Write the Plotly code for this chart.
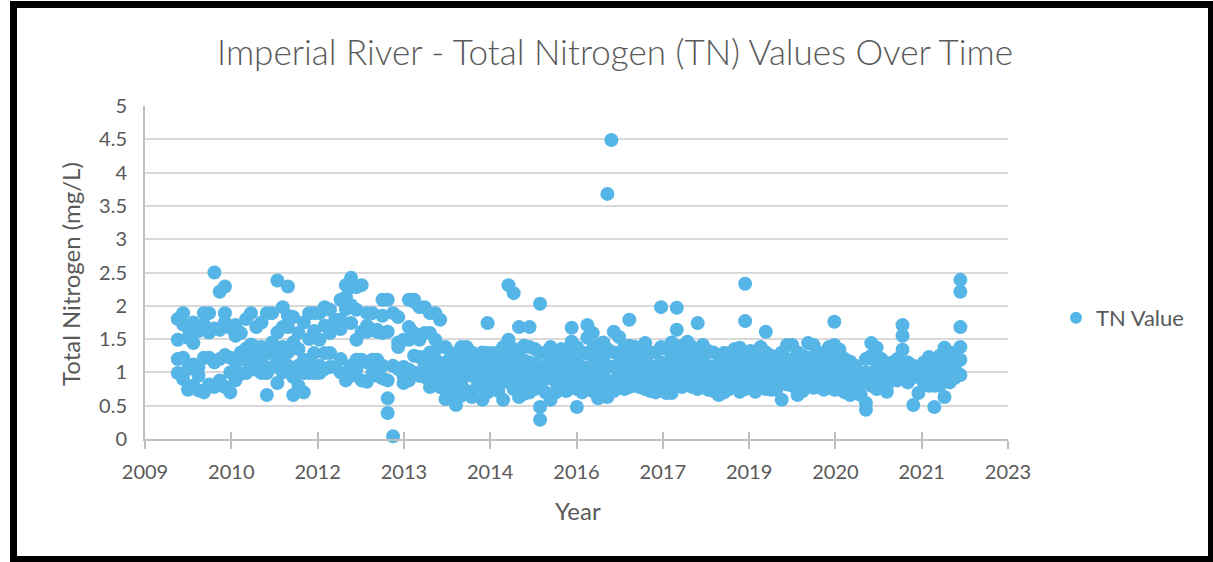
import plotly.graph_objects as go

# ---------------- data ----------------
sample_dates = [
    "2010-01-12", "2010-02-12", "2010-03-12", "2010-04-12", "2010-05-12", "2010-06-12",
    "2010-07-12", "2010-08-12", "2010-09-12", "2010-10-12", "2010-11-12", "2010-12-12",
    "2011-01-12", "2011-02-12", "2011-03-12", "2011-04-12", "2011-05-12", "2011-06-12",
    "2011-07-12", "2011-08-12", "2011-09-12", "2011-10-12", "2011-11-12", "2011-12-12",
    "2012-01-12", "2012-02-12", "2012-03-12", "2012-04-12", "2012-05-12", "2012-06-12",
    "2012-07-12", "2012-08-12", "2012-09-12", "2012-10-12", "2012-11-12", "2012-12-12",
    "2013-01-12", "2013-02-12", "2013-03-12", "2013-04-12", "2013-05-12", "2013-06-12",
    "2013-07-12", "2013-08-12", "2013-09-12", "2013-10-12", "2013-11-12", "2013-12-12",
    "2014-01-12", "2014-02-12", "2014-03-12", "2014-04-12", "2014-05-12", "2014-06-12",
    "2014-07-12", "2014-08-12", "2014-09-12", "2014-10-12", "2014-11-12", "2014-12-12",
    "2015-01-12", "2015-02-12", "2015-03-12", "2015-04-12", "2015-05-12", "2015-06-12",
    "2015-07-12", "2015-08-12", "2015-09-12", "2015-10-12", "2015-11-12", "2015-12-12",
    "2016-01-12", "2016-02-12", "2016-03-12", "2016-04-12", "2016-05-12", "2016-06-12",
    "2016-07-12", "2016-08-12", "2016-09-12", "2016-10-12", "2016-11-05", "2016-11-28",
    "2016-12-12",
    "2017-01-12", "2017-02-12", "2017-03-12", "2017-04-12", "2017-05-12", "2017-06-12",
    "2017-07-12", "2017-08-12", "2017-09-12", "2017-10-12", "2017-11-12", "2017-12-12",
    "2018-01-12", "2018-02-12", "2018-03-12", "2018-04-12", "2018-05-12", "2018-06-12",
    "2018-07-12", "2018-08-12", "2018-09-12", "2018-10-12", "2018-11-12", "2018-12-12",
    "2019-01-12", "2019-02-12", "2019-03-12", "2019-04-12", "2019-05-12", "2019-06-12",
    "2019-07-12", "2019-08-12", "2019-09-12", "2019-10-12", "2019-11-12", "2019-12-12",
    "2020-01-12", "2020-02-12", "2020-03-12", "2020-04-12", "2020-05-12", "2020-06-12",
    "2020-07-12", "2020-08-12", "2020-09-12", "2020-10-12", "2020-11-12", "2020-12-12",
    "2021-01-12", "2021-02-12", "2021-03-12", "2021-04-12", "2021-05-12", "2021-06-12",
    "2021-07-12", "2021-08-12", "2021-09-12", "2021-10-12", "2021-11-12", "2021-12-12",
    "2022-01-12", "2022-02-12", "2022-03-12", "2022-04-12", "2022-05-12", "2022-06-12",
]

tn_by_date = [
    # 2010
    [1.80, 1.49, 1.20, 0.99], [1.89, 1.72, 1.22, 0.90], [1.67, 1.52, 1.05, 0.74],
    [1.75, 1.44, 1.12, 0.80], [1.62, 1.08, 0.95, 0.73], [1.89, 1.72, 1.22, 0.70],
    [1.89, 1.60, 1.22, 0.82], [2.50, 1.66, 1.15, 0.78], [2.21, 1.64, 1.20, 0.88],
    [2.29, 1.89, 1.75, 1.26, 0.78], [1.67, 1.22, 1.00, 0.70], [1.71, 1.55, 1.16, 0.88],
    # 2011
    [1.59, 1.30, 1.19, 0.98], [1.80, 1.36, 1.19, 0.99], [1.89, 1.42, 1.25, 1.10],
    [1.68, 1.38, 1.26, 1.04], [1.75, 1.38, 1.15, 0.99], [1.89, 1.29, 0.99, 0.66],
    [1.89, 1.45, 1.29, 1.08], [2.38, 1.60, 1.20, 1.08, 0.84], [1.98, 1.68, 1.38, 1.23, 1.00],
    [2.29, 1.85, 1.68, 1.30, 1.10], [1.83, 1.45, 0.93, 0.66], [1.59, 1.35, 1.10, 0.80],
    # 2012
    [1.75, 1.19, 0.99, 0.70], [1.89, 1.50, 1.15, 0.99], [1.89, 1.62, 1.29, 0.99],
    [1.89, 1.49, 1.10, 0.99], [1.98, 1.70, 1.29, 1.05], [1.94, 1.59, 1.29, 1.08],
    [1.79, 1.74, 1.08], [2.09, 1.79, 1.65, 1.20, 1.00], [2.31, 2.13, 1.95, 0.99, 0.88],
    [2.42, 2.28, 2.01, 1.74, 1.10, 0.95], [2.28, 1.94, 1.49, 1.19, 1.05], [2.31, 1.61, 1.19, 0.88],
    # 2013
    [1.89, 1.70, 1.61, 1.15, 0.86], [1.89, 1.64, 1.19, 0.99], [1.64, 1.61, 1.19, 1.10, 0.95],
    [2.09, 1.85, 1.59, 1.10, 0.91], [2.09, 1.61, 0.88, 0.61, 0.39], [1.89, 1.10, 0.04],
    [1.83, 1.45, 1.38, 1.05], [1.49, 1.08, 0.95, 0.84], [2.09, 1.68, 1.49, 1.04, 0.88],
    [2.09, 2.06, 1.59, 1.25, 1.00], [1.98, 1.49, 1.23, 0.95], [1.98, 1.59, 1.23, 1.10, 0.93],
    # 2014
    [1.89, 1.59, 1.30, 0.99, 0.78], [1.89, 1.49, 1.20, 1.04, 0.90], [1.79, 1.38, 1.04, 0.78],
    [1.38, 1.15, 0.90, 0.74, 0.60], [1.29, 1.08, 0.88, 0.70], [1.20, 0.99, 0.80, 0.51],
    [1.38, 1.10, 0.84, 0.65], [1.38, 1.20, 0.99, 0.72], [1.30, 1.12, 0.95, 0.63],
    [1.22, 1.05, 0.93, 0.78], [1.30, 1.10, 0.90, 0.59], [1.74, 1.29, 1.08, 0.85, 0.70],
    # 2015
    [1.29, 1.20, 1.00, 0.80], [1.30, 1.10, 0.88, 0.72], [1.38, 1.15, 0.95, 0.59],
    [2.31, 1.49, 1.25, 1.05, 0.85], [2.19, 1.35, 1.12, 0.92, 0.75], [1.68, 1.30, 1.05, 0.85, 0.63],
    [1.40, 1.18, 0.99, 0.80, 0.68], [1.68, 1.38, 1.15, 0.95, 0.70], [1.35, 1.12, 0.92, 0.75],
    [2.03, 1.29, 1.05, 0.88, 0.48, 0.29], [1.30, 1.10, 0.90, 0.70], [1.38, 1.20, 1.00, 0.59],
    # 2016
    [1.25, 1.05, 0.85, 0.70], [1.35, 1.15, 0.95, 0.75], [1.30, 1.10, 0.90, 0.72],
    [1.67, 1.46, 1.25, 1.00, 0.80], [1.38, 1.15, 0.95, 0.75, 0.48], [1.30, 1.08, 0.88, 0.70],
    [1.71, 1.52, 1.28, 1.05, 0.85], [1.59, 1.35, 1.12, 0.90, 0.72], [1.40, 1.18, 0.98, 0.78, 0.61],
    [1.45, 1.22, 1.00, 0.80], [3.68, 1.35, 1.10, 0.88, 0.63], [4.49],
    [1.61, 1.30, 1.08, 0.88, 0.72],
    # 2017
    [1.53, 1.25, 1.02, 0.82], [1.38, 1.15, 0.95, 0.75], [1.79, 1.40, 1.20, 0.98, 0.78],
    [1.38, 1.15, 0.95, 0.80], [1.35, 1.25, 1.05, 0.85, 0.78], [1.44, 1.12, 0.92, 0.75],
    [1.30, 1.10, 0.90, 0.72], [1.30, 1.08, 0.88, 0.70], [1.98, 1.38, 1.15, 0.95, 0.80],
    [1.35, 1.12, 0.92, 0.69], [1.45, 1.22, 1.00, 0.80, 0.69], [1.97, 1.64, 1.30, 1.08, 0.88],
    # 2018
    [1.40, 1.18, 0.95, 0.78], [1.46, 1.25, 1.05, 0.85], [1.38, 1.15, 0.95, 0.78],
    [1.74, 1.30, 1.10, 0.90, 0.75], [1.41, 1.20, 1.00, 0.80], [1.32, 1.10, 0.92, 0.74],
    [1.30, 1.08, 0.88, 0.72], [1.25, 1.05, 0.85, 0.66], [1.29, 1.08, 0.90, 0.70],
    [1.29, 1.10, 0.92, 0.75], [1.35, 1.15, 0.95, 0.78], [1.37, 1.18, 0.98, 0.71],
    # 2019
    [2.33, 1.77, 1.30, 1.10, 0.90, 0.75], [1.32, 1.12, 0.92, 0.78], [1.28, 1.08, 0.90, 0.71],
    [1.38, 1.18, 0.98, 0.80], [1.61, 1.30, 1.10, 0.90, 0.75], [1.25, 1.05, 0.88, 0.74],
    [1.20, 1.02, 0.85, 0.74], [1.30, 1.10, 0.90, 0.59], [1.41, 1.20, 1.00, 0.82],
    [1.41, 1.18, 0.98, 0.80], [1.30, 1.10, 0.92, 0.66], [1.25, 1.05, 0.88, 0.72],
    # 2020
    [1.44, 1.22, 1.02, 0.85], [1.41, 1.20, 1.00, 0.77], [1.30, 1.10, 0.92, 0.78],
    [1.25, 1.05, 0.88, 0.74], [1.38, 1.19, 0.99, 0.80], [1.76, 1.41, 1.19, 0.99, 0.74],
    [1.34, 1.12, 0.92, 0.74], [1.20, 1.00, 0.85, 0.70], [1.16, 0.95, 0.80, 0.66],
    [1.10, 0.91, 0.75], [0.99, 0.85, 0.66], [1.20, 1.00, 0.85, 0.54, 0.44],
    # 2021
    [1.44, 1.25, 0.99, 0.80], [1.37, 1.15, 0.92, 0.75], [1.20, 1.00, 0.85, 0.78],
    [1.10, 0.95, 0.80, 0.71], [1.15, 0.99, 0.88], [1.20, 1.00, 0.88],
    [1.71, 1.55, 1.34, 1.04, 0.90], [1.15, 0.99, 0.85], [1.10, 0.93, 0.51],
    [1.05, 0.93, 0.69], [1.15, 0.99, 0.85], [1.23, 1.05, 0.93, 0.80],
    # 2022
    [1.12, 0.95, 0.80, 0.48], [1.25, 1.08, 0.93, 0.80], [1.37, 1.15, 1.04, 0.63],
    [1.30, 1.10, 0.99, 0.85], [1.25, 1.05, 0.92], [2.39, 2.21, 1.68, 1.38, 1.19, 0.96],
]

x_tick_dates = ["2009-07-06", "2010-11-18", "2012-04-01", "2013-08-14", "2014-12-27",
                "2016-05-10", "2017-09-22", "2019-02-04", "2020-06-18", "2021-10-31",
                "2023-03-15"]
x_tick_labels = ["2009", "2010", "2012", "2013", "2014", "2016", "2017", "2019",
                 "2020", "2021", "2023"]
y_ticks = [0, 0.5, 1, 1.5, 2, 2.5, 3, 3.5, 4, 4.5, 5]

assert len(sample_dates) == len(tn_by_date)
xs, ys = [], []
for d, vals in zip(sample_dates, tn_by_date):
    for v in vals:
        xs.append(d)
        ys.append(v)

# ---------------- figure ----------------
FONT = "Lato, 'Open Sans', sans-serif"
GRAY_TXT = "#595959"
AXIS_GRAY = "#BFBFBF"
GRID_GRAY = "#D9D9D9"
BLUE = "#55B5E7"

W, H = 1213, 562
L, R, T, B = 145, 205, 106, 123
pw, ph = W - L - R, H - T - B


def px(xp):
    return (xp - L) / pw


def py(yp):
    return (H - B - yp) / ph


fig = go.Figure()
fig.add_trace(go.Scatter(
    x=xs, y=ys, mode="markers", name="TN Value",
    marker=dict(color=BLUE, size=14, line=dict(width=0)),
    cliponaxis=False, xaxis="x", yaxis="y",
))
# invisible trace to drive the overlay axis (inner half of the crossing ticks)
fig.add_trace(go.Scatter(
    x=[x_tick_dates[0]], y=[0], mode="markers", showlegend=False,
    marker=dict(opacity=0), hoverinfo="skip", xaxis="x2", yaxis="y",
))

fig.update_layout(
    width=W, height=H,
    margin=dict(l=L, r=R, t=T, b=B),
    paper_bgcolor="white", plot_bgcolor="white",
    font=dict(family=FONT, color=GRAY_TXT, size=20),
    title=dict(
        text="Imperial River - Total Nitrogen (TN) Values Over Time",
        x=615 / W, xref="container", xanchor="center",
        y=1 - 53 / H, yref="container", yanchor="middle",
        font=dict(family=FONT, size=35, color=GRAY_TXT, weight=300),
    ),
    xaxis=dict(
        type="date",
        range=[x_tick_dates[0], x_tick_dates[-1]],
        tickmode="array", tickvals=x_tick_dates, ticktext=x_tick_labels,
        ticks="outside", ticklen=8, tickwidth=2, tickcolor=AXIS_GRAY,
        showline=True, linecolor=AXIS_GRAY, linewidth=2,
        showgrid=False, zeroline=False,
        tickfont=dict(family=FONT, size=20, color=GRAY_TXT),
        ticklabelstandoff=6,
    ),
    xaxis2=dict(
        type="date", overlaying="x", anchor="y", side="bottom",
        range=[x_tick_dates[0], x_tick_dates[-1]],
        tickmode="array", tickvals=x_tick_dates, ticktext=[""] * len(x_tick_dates),
        ticks="inside", ticklen=7, tickwidth=2, tickcolor=AXIS_GRAY,
        showline=False, showgrid=False, zeroline=False, showticklabels=False,
    ),
    yaxis=dict(
        range=[0, 5],
        tickmode="array", tickvals=y_ticks,
        showline=True, linecolor=AXIS_GRAY, linewidth=2,
        showgrid=True, gridcolor=GRID_GRAY, gridwidth=2,
        zeroline=False, ticks="",
        tickfont=dict(family=FONT, size=20, color=GRAY_TXT),
        ticklabelstandoff=12,
    ),
    showlegend=True,
    legend=dict(
        x=px(1056), y=py(318), xanchor="left", yanchor="middle",
        font=dict(family=FONT, size=22, color=GRAY_TXT),
        bgcolor="rgba(0,0,0,0)", itemsizing="constant",
    ),
    annotations=[
        dict(text="Total Nitrogen (mg/L)", textangle=-90,
             x=px(70), y=py(274), xref="paper", yref="paper",
             xanchor="center", yanchor="middle", showarrow=False,
             font=dict(family=FONT, size=24, color=GRAY_TXT)),
        dict(text="Year", x=px(578), y=py(510), xref="paper", yref="paper",
             xanchor="center", yanchor="middle", showarrow=False,
             font=dict(family=FONT, size=24, color=GRAY_TXT)),
    ],
    shapes=[
        dict(type="rect", xref="paper", yref="paper",
             x0=px(13.5), x1=px(1211.5), y0=py(559.5), y1=py(4.5),
             line=dict(color="black", width=7), fillcolor="rgba(0,0,0,0)",
             layer="above"),
    ],
)

fig.write_html("out.html", config={"displayModeBar": False},
               post_script="document.body.style.margin='0';")
